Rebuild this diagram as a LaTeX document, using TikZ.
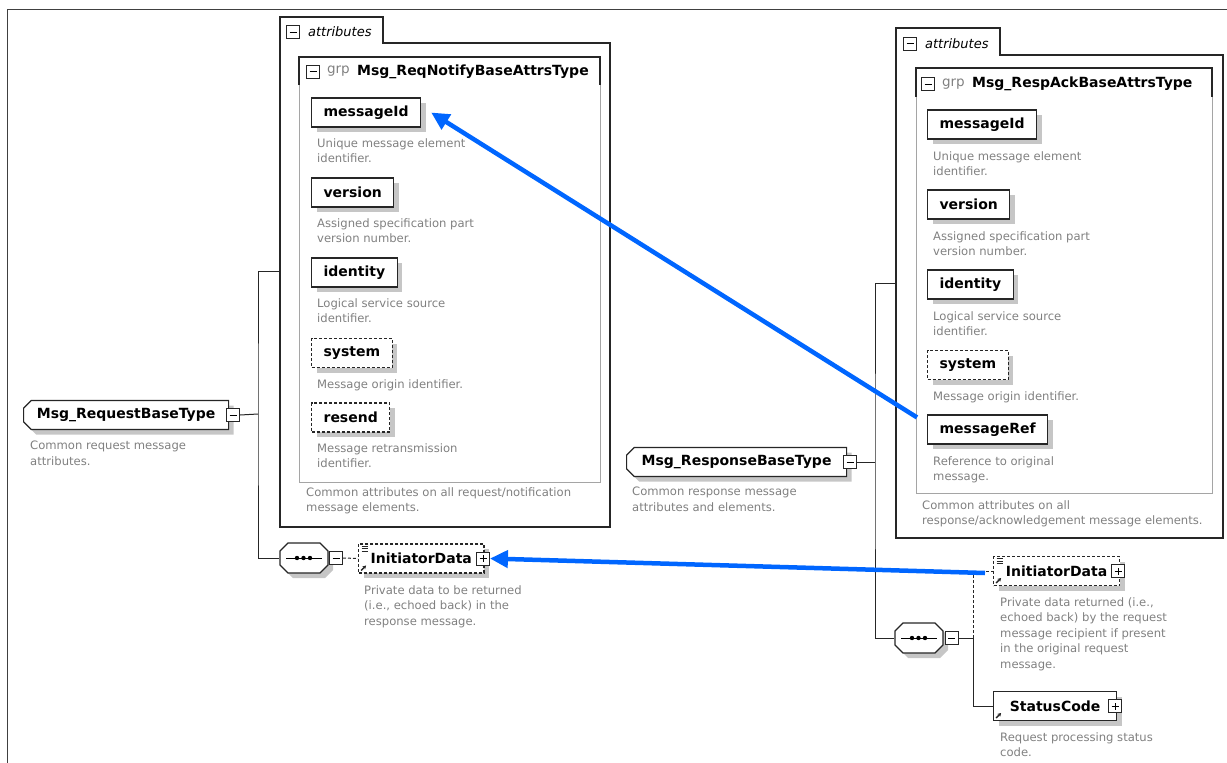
\documentclass[tikz,border=0pt]{standalone}
\usepackage{fontspec}
\setmainfont{DejaVu Sans}
\usetikzlibrary{positioning,shapes.misc,shadows,arrows.meta}

\definecolor{descgray}{RGB}{128,128,128}
\definecolor{shadowgray}{RGB}{198,198,198}
\definecolor{grpgray}{RGB}{165,165,165}
\definecolor{linkblue}{RGB}{0,102,255}

\tikzset{
  boxline/.style={draw=black!85, line width=1.2pt},
  grpline/.style={draw=grpgray, line width=1pt},
  elem/.style={draw=black!85, fill=white, line width=1.2pt, rectangle,
    minimum height=29pt, inner xsep=12pt,
    font=\fontsize{14}{16}\selectfont\bfseries,
    drop shadow={shadow xshift=5pt, shadow yshift=-5pt, fill=shadowgray, opacity=1}},
  optelem/.style={elem, dash pattern=on 3pt off 2pt},
  typebox/.style={elem, chamfered rectangle,
    chamfered rectangle corners={north west,south west},
    chamfered rectangle xsep=4pt, inner xsep=6pt},
  seqbox/.style={draw=black!85, fill=white, line width=1.2pt, chamfered rectangle,
    chamfered rectangle xsep=4pt, chamfered rectangle ysep=4pt, inner sep=4pt,
    minimum width=48pt, minimum height=30pt,
    drop shadow={shadow xshift=5pt, shadow yshift=-5pt, fill=shadowgray, opacity=1},
    path picture={
      \draw[black, solid, line width=1pt] ([xshift=-18pt]path picture bounding box.center)
        -- ([xshift=18pt]path picture bounding box.center);
      \foreach \dx in {-7,-0.5,6}
        \fill[black] ([xshift=\dx pt]path picture bounding box.center) circle (2.2pt);}},
  refmark/.style={path picture={
      \draw[solid, line width=1.3pt, -{Stealth[length=3.5pt,width=4pt]}]
        ([shift={(2.5pt,2.5pt)}]path picture bounding box.south west) -- ++(5pt,5pt);}},
  cplxrefmark/.style={path picture={
      \draw[solid, line width=1.3pt, -{Stealth[length=3.5pt,width=4pt]}]
        ([shift={(2.5pt,2.5pt)}]path picture bounding box.south west) -- ++(5pt,5pt);
      \foreach \k in {2,4.5,7}
        \draw[solid, line width=0.7pt]
          ([shift={(3pt,-\k pt)}]path picture bounding box.north west) -- ++(6pt,0pt);}},
  pmbox/.style={draw=black!85, fill=white, solid, line width=0.8pt,
    minimum size=13pt, inner sep=0pt},
  minusbox/.style={pmbox, path picture={
      \draw[black, solid, line width=0.8pt] ([xshift=3pt]path picture bounding box.west)
        -- ([xshift=-3pt]path picture bounding box.east);}},
  plusbox/.style={pmbox, path picture={
      \draw[black, solid, line width=0.8pt] ([xshift=3pt]path picture bounding box.west)
        -- ([xshift=-3pt]path picture bounding box.east);
      \draw[black, solid, line width=0.8pt] ([yshift=3pt]path picture bounding box.south)
        -- ([yshift=-3pt]path picture bounding box.north);}},
  descr/.style={anchor=north west, inner sep=0pt, align=left, text=descgray,
    font=\fontsize{11.6}{15.5}\selectfont},
  attrlabel/.style={inner sep=1pt, font=\fontsize{13}{15}\selectfont\itshape},
  grptag/.style={inner sep=1pt, text=descgray, font=\fontsize{13.5}{15}\selectfont},
  grpname/.style={inner sep=1pt, font=\fontsize{14}{16}\selectfont\bfseries},
  conn/.style={draw=black!85, line width=1pt},
  link/.style={draw=linkblue, line width=4.5pt,
    -{Triangle[length=18pt,width=17pt]}}
}

\begin{document}
\begin{tikzpicture}[x=1pt, y=-1pt]
\useasboundingbox (0,0) rectangle (1227,763);

% outer frame
\draw[black!75, line width=1pt] (1227,9) -| (7,763);

% request side: attributes group
\draw[boxline] (280,527) -- (280,17) -- (383,17) -- (383,43) -- (610,43) -- (610,527) -- cycle;
\node[minusbox] (lattrminus) at (293,32) {};
\node[attrlabel, right=7pt of lattrminus] (lattrlabel) {attributes};
\draw[grpline] (299,57) rectangle (600,482);
\draw[boxline] (299,85) |- (600,57) -- (600,85);
\node[minusbox] (lgrpminus) at (313,71.5) {};
\node[grptag, right=6pt of lgrpminus] (lgrptag) {grp};
\node[grpname, right=5pt of lgrptag] (lgrpname) {Msg\_ReqNotifyBaseAttrsType};

\node[elem, anchor=west] (lmsgid) at (311,112.5) {messageId};
\node[descr] (lmsgiddesc) at (317,138) {Unique message element\\identifier.};
\node[elem, anchor=west] (lversion) at (311,192.5) {version};
\node[descr] (lversiondesc) at (317,218) {Assigned specification part\\version number.};
\node[elem, anchor=west] (lidentity) at (311,272.5) {identity};
\node[descr] (lidentitydesc) at (317,298) {Logical service source\\identifier.};
\node[optelem, anchor=west] (lsystem) at (311,353) {system};
\node[descr] (lsystemdesc) at (317,379) {Message origin identifier.};
\node[optelem, anchor=west] (lresend) at (311,417.5) {resend};
\node[descr] (lresenddesc) at (317,443) {Message retransmission\\identifier.};
\node[descr] (lattrdesc) at (306,487) {Common attributes on all request/notification\\message elements.};

% request type
\node[typebox, anchor=west, minimum width=205pt] (rqtype) at (23,415) {Msg\_RequestBaseType};
\node[minusbox] (rqminus) at ([xshift=4pt]rqtype.east) {};
\node[descr] (rqdesc) at (30,441) {Common request message\\attributes.};

% request sequence
\node[seqbox] (lseq) at (304,558) {};
\node[minusbox] (lsqminus) at ([xshift=7.5pt]lseq.east) {};
\node[optelem, cplxrefmark, anchor=west, minimum width=124pt] (linit) at (358,558.5) {InitiatorData};
\node[plusbox] (linitplus) at ([xshift=-1.5pt]linit.east) {};
\node[descr] (linitdesc) at (364,585) {Private data to be returned\\(i.e., echoed back) in the\\response message.};

% request connectors
\coordinate (ltrunk) at (258,414);
\coordinate (lattrin) at (280,271);
\draw[conn] (rqminus.east) -- (ltrunk);
\draw[conn] (lattrin) -| (ltrunk) |- (lseq.west);
\draw[conn, dash pattern=on 3pt off 2pt] (lsqminus.east) -- (linit.west);

% response side: attributes group
\draw[boxline] (896,538) -- (896,28) -- (1000,28) -- (1000,55) -- (1223,55) -- (1223,538) -- cycle;
\node[minusbox] (rattrminus) at (910,43.5) {};
\node[attrlabel, right=7pt of rattrminus] (rattrlabel) {attributes};
\draw[grpline] (916,68) rectangle (1212,493);
\draw[boxline] (916,97) |- (1212,68) -- (1212,97);
\node[minusbox] (rgrpminus) at (928,84) {};
\node[grptag, right=6pt of rgrpminus] (rgrptag) {grp};
\node[grpname, right=5pt of rgrptag] (rgrpname) {Msg\_RespAckBaseAttrsType};

\node[elem, anchor=west] (rmsgid) at (927,124.5) {messageId};
\node[descr] (rmsgiddesc) at (933,151) {Unique message element\\identifier.};
\node[elem, anchor=west] (rversion) at (927,204.5) {version};
\node[descr] (rversiondesc) at (933,231) {Assigned specification part\\version number.};
\node[elem, anchor=west] (ridentity) at (927,284.5) {identity};
\node[descr] (ridentitydesc) at (933,311) {Logical service source\\identifier.};
\node[optelem, anchor=west] (rsystem) at (927,365) {system};
\node[descr] (rsystemdesc) at (933,391) {Message origin identifier.};
\node[elem, anchor=west] (rmsgref) at (927,429.5) {messageRef};
\node[descr] (rmsgrefdesc) at (933,456) {Reference to original\\message.};
\node[descr] (rattrdesc) at (922,500) {Common attributes on all\\response/acknowledgement message elements.};

% response type
\node[typebox, anchor=west, minimum width=220pt] (rstype) at (626,462) {Msg\_ResponseBaseType};
\node[minusbox] (rsminus) at ([xshift=3pt]rstype.east) {};
\node[descr] (rsdesc) at (632,487) {Common response message\\attributes and elements.};

% response sequence
\node[seqbox] (rseq) at (919,638) {};
\node[minusbox] (rsqminus) at ([xshift=8pt]rseq.east) {};
\node[optelem, cplxrefmark, anchor=west, minimum width=126pt] (rinit) at (993,571) {InitiatorData};
\node[plusbox] (rinitplus) at ([xshift=-2pt]rinit.east) {};
\node[descr] (rinitdesc) at (1000,597) {Private data returned (i.e.,\\echoed back) by the request\\message recipient if present\\in the original request\\message.};
\node[elem, refmark, anchor=west, minimum width=123pt] (rstatus) at (993,706) {StatusCode};
\node[plusbox] (rstatusplus) at ([xshift=-2pt]rstatus.east) {};
\node[descr] (rstatusdesc) at (1000,732) {Request processing status\\code.};

% response connectors
\coordinate (rtrunk) at (875,462);
\coordinate (rattrin) at (896,283);
\coordinate (rbranch) at (973,638);
\draw[conn] (rsminus.east) -- (rtrunk);
\draw[conn] (rattrin) -| (rtrunk) |- (rseq.west);
\draw[conn] (rsqminus.east) -- (rbranch);
\draw[conn, dash pattern=on 3pt off 2pt] (rbranch) |- (rinit.west);
\draw[conn] (rbranch) |- (rstatus.west);

% blue links
\draw[link] ([xshift=-10pt,yshift=-3pt]rmsgref.north west) -- ([xshift=10pt]lmsgid.east);
\draw[link] ([xshift=-8pt,yshift=-2pt]rinit.west) -- (linitplus.east);
\end{tikzpicture}
\end{document}
